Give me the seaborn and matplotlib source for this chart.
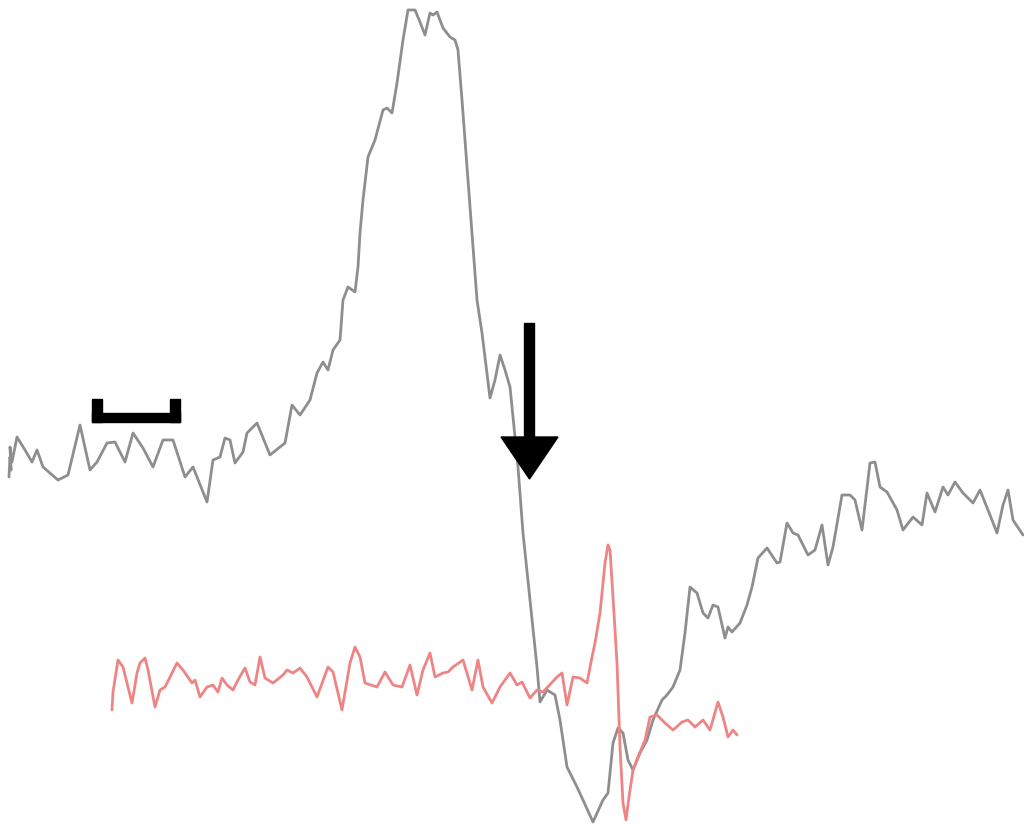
import numpy as np
import pandas as pd
import matplotlib
matplotlib.use("Agg")
import matplotlib.pyplot as plt
import seaborn as sns
from matplotlib.patches import Polygon, Rectangle

# Field potential (grey) sampled along the sweep: time index and amplitude
field_t = [9, 10, 11, 10, 12, 17, 25, 32, 37, 43, 58, 68, 80, 90, 97, 107, 115, 125,
           133, 143, 153, 163, 173, 185, 193, 207, 213, 220, 225, 230, 235, 243, 247,
           257, 270, 285, 292, 300, 310, 317, 323, 328, 333, 340, 343, 348, 355, 358,
           360, 363, 368, 375, 383, 387, 392, 397, 403, 408, 415, 420, 425, 430, 433,
           437, 443, 450, 455, 458, 462, 467, 472, 477, 482, 490, 495, 500, 505, 510,
           513, 518, 523, 530, 537, 540, 547, 555, 560, 567, 577, 583, 593, 603, 608,
           613, 618, 623, 628, 633, 640, 647, 653, 662, 667, 673, 680, 685, 690, 697,
           703, 708, 713, 718, 725, 728, 732, 740, 747, 752, 758, 767, 777, 780, 787,
           793, 798, 808, 815, 822, 828, 833, 842, 850, 855, 862, 870, 875, 880, 887,
           897, 903, 913, 922, 927, 935, 943, 948, 955, 963, 973, 980, 990, 997, 1003,
           1008, 1013, 1023]
field_v = [477, 457, 470, 447, 462, 437, 450, 462, 450, 467, 480, 475, 425, 470, 462,
           443, 442, 462, 433, 448, 467, 440, 440, 477, 467, 502, 460, 457, 438, 440,
           463, 452, 433, 423, 455, 443, 405, 415, 400, 373, 362, 370, 350, 340, 300,
           287, 292, 267, 233, 200, 157, 140, 110, 108, 113, 83, 40, 10, 10, 22, 35,
           13, 15, 12, 28, 37, 40, 50, 100, 167, 233, 300, 333, 398, 380, 355, 370,
           387, 417, 467, 533, 600, 667, 702, 690, 695, 720, 767, 787, 800, 822, 800,
           793, 743, 728, 733, 760, 770, 753, 740, 720, 700, 695, 687, 670, 633, 587,
           593, 613, 618, 605, 607, 638, 627, 632, 623, 605, 587, 558, 548, 563, 562,
           523, 533, 535, 555, 550, 525, 565, 547, 495, 495, 500, 530, 463, 462, 487,
           492, 510, 530, 517, 525, 493, 512, 487, 495, 482, 493, 503, 490, 515, 533,
           505, 490, 520, 535]

# Unit recording (red) over the same sweep
unit_t = [112, 113, 118, 123, 132, 137, 140, 145, 148, 155, 160, 165, 177, 183, 192,
          195, 200, 207, 213, 218, 222, 227, 233, 238, 245, 250, 255, 260, 265, 273,
          283, 287, 293, 300, 307, 317, 328, 333, 342, 350, 355, 360, 365, 377, 385,
          393, 402, 410, 417, 423, 430, 435, 443, 448, 453, 463, 472, 478, 483, 492,
          500, 510, 517, 522, 530, 537, 543, 557, 562, 567, 573, 580, 587, 592, 595,
          600, 605, 608, 610, 613, 617, 620, 623, 626, 629, 633, 638, 645, 650, 657,
          665, 673, 682, 688, 695, 703, 710, 718, 723, 728, 733, 737]
unit_v = [710, 692, 660, 667, 703, 673, 663, 658, 670, 707, 690, 687, 663, 670, 683,
          680, 697, 687, 685, 692, 678, 685, 690, 680, 668, 682, 685, 657, 678, 683,
          675, 670, 673, 668, 677, 697, 667, 672, 710, 663, 647, 657, 683, 687, 672,
          685, 687, 665, 695, 670, 653, 677, 673, 672, 667, 660, 690, 660, 687, 703,
          687, 673, 685, 682, 698, 690, 692, 677, 673, 705, 677, 678, 683, 657, 643,
          613, 563, 545, 550, 597, 663, 747, 803, 820, 797, 770, 757, 740, 717, 715,
          723, 730, 722, 720, 727, 720, 730, 702, 717, 737, 730, 735]

field = pd.DataFrame({"t": field_t, "v": field_v})
unit = pd.DataFrame({"t": unit_t, "v": unit_v})

sns.set_theme(style="white")
fig = plt.figure(figsize=(10.24, 8.26), dpi=100)
ax = fig.add_axes([0, 0, 1, 1])

line_kw = dict(estimator=None, sort=False, lw=2.0,
               solid_joinstyle="round", solid_capstyle="round")
sns.lineplot(data=field, x="t", y="v", ax=ax, color="#8e8e8e", **line_kw)
sns.lineplot(data=unit, x="t", y="v", ax=ax, color="#ee8484", **line_kw)

ax.set_xlim(0, 1024)
ax.set_ylim(826, 0)
ax.axis("off")

# Scale bar bracket
ax.add_patch(Rectangle((92, 413), 88, 9, color="black", zorder=3))
ax.add_patch(Rectangle((92, 399), 10, 23, color="black", zorder=3))
ax.add_patch(Rectangle((170, 399), 10, 23, color="black", zorder=3))

# Stimulus arrow
ax.add_patch(Rectangle((524, 323), 10, 116, color="black", zorder=3))
ax.add_patch(Polygon([(501, 437), (558, 437), (529.5, 479)], closed=True,
                     color="black", zorder=3))

fig.savefig("out.png", dpi=100, facecolor="white")
